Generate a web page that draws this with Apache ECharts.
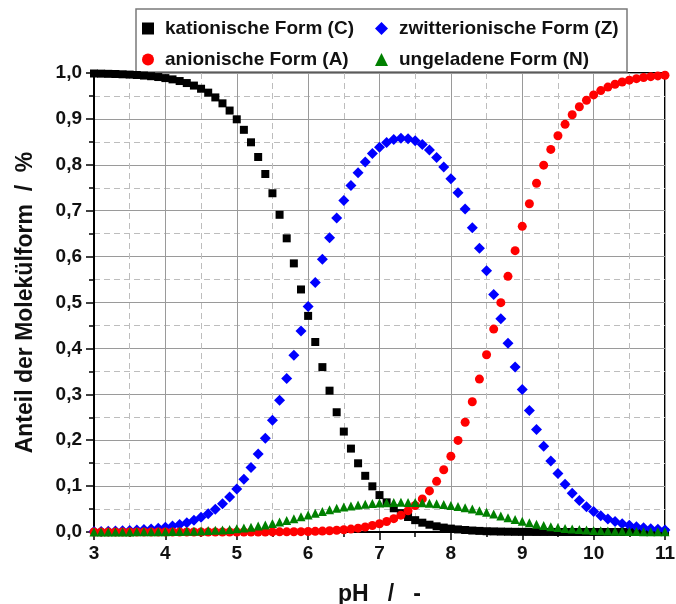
<!DOCTYPE html>
<html>
<head>
<meta charset="utf-8">
<script src="https://cdn.jsdelivr.net/npm/echarts@6/dist/echarts.min.js"></script>
<style>
  html, body { margin: 0; padding: 0; background: #fff; }
  #chart { width: 676px; height: 604px; }
</style>
</head>
<body>
<div id="chart"></div>
<script>
// pH sampling points
const pH = [
  3.0, 3.1, 3.2, 3.3, 3.4, 3.5, 3.6, 3.7, 3.8, 3.9,
  4.0, 4.1, 4.2, 4.3, 4.4, 4.5, 4.6, 4.7, 4.8, 4.9,
  5.0, 5.1, 5.2, 5.3, 5.4, 5.5, 5.6, 5.7, 5.8, 5.9,
  6.0, 6.1, 6.2, 6.3, 6.4, 6.5, 6.6, 6.7, 6.8, 6.9,
  7.0, 7.1, 7.2, 7.3, 7.4, 7.5, 7.6, 7.7, 7.8, 7.9,
  8.0, 8.1, 8.2, 8.3, 8.4, 8.5, 8.6, 8.7, 8.8, 8.9,
  9.0, 9.1, 9.2, 9.3, 9.4, 9.5, 9.6, 9.7, 9.8, 9.9,
  10.0, 10.1, 10.2, 10.3, 10.4, 10.5, 10.6, 10.7, 10.8, 10.9, 11.0
];

// kationische Form (C)
const cationic = [
  0.9989, 0.9986, 0.9982, 0.9978, 0.9972, 0.9965, 0.9956, 0.9944, 0.9930, 0.9912,
  0.9889, 0.9861, 0.9825, 0.9781, 0.9726, 0.9657, 0.9572, 0.9468, 0.9339, 0.9182,
  0.8991, 0.8762, 0.8490, 0.8170, 0.7800, 0.7380, 0.6911, 0.6398, 0.5852, 0.5284,
  0.4708, 0.4139, 0.3592, 0.3079, 0.2609, 0.2188, 0.1817, 0.1497, 0.1224, 0.0995,
  0.0804, 0.0646, 0.0517, 0.0412, 0.0327, 0.0258, 0.0203, 0.0159, 0.0124, 0.0096,
  0.0074, 0.0056, 0.0043, 0.0032, 0.0024, 0.0017, 0.0013, 0.0009, 0.0006, 0.0004,
  0.0003, 0.0002, 0.0001, 0.0001, 0.0001, 0.0000, 0.0000, 0.0000, 0.0000, 0.0000,
  0.0000, 0.0000, 0.0000, 0.0000, 0.0000, 0.0000, 0.0000, 0.0000, 0.0000, 0.0000, 0.0000
];

// zwitterionische Form (Z)
const zwitterionic = [
  0.0010, 0.0013, 0.0017, 0.0021, 0.0026, 0.0033, 0.0041, 0.0052, 0.0065, 0.0082,
  0.0103, 0.0130, 0.0162, 0.0204, 0.0255, 0.0319, 0.0398, 0.0495, 0.0615, 0.0761,
  0.0938, 0.1151, 0.1404, 0.1701, 0.2045, 0.2435, 0.2871, 0.3346, 0.3853, 0.4379,
  0.4912, 0.5437, 0.5941, 0.6411, 0.6839, 0.7220, 0.7550, 0.7829, 0.8060, 0.8244,
  0.8385, 0.8486, 0.8549, 0.8576, 0.8567, 0.8522, 0.8441, 0.8320, 0.8158, 0.7951,
  0.7696, 0.7391, 0.7036, 0.6631, 0.6181, 0.5692, 0.5177, 0.4646, 0.4114, 0.3596,
  0.3104, 0.2648, 0.2234, 0.1867, 0.1547, 0.1272, 0.1040, 0.0846, 0.0684, 0.0552,
  0.0444, 0.0356, 0.0285, 0.0228, 0.0182, 0.0145, 0.0116, 0.0092, 0.0073, 0.0058, 0.0046
];

// anionische Form (A)
const anionic = [
  0.0000, 0.0000, 0.0000, 0.0000, 0.0000, 0.0000, 0.0000, 0.0000, 0.0000, 0.0000,
  0.0000, 0.0000, 0.0000, 0.0000, 0.0000, 0.0000, 0.0000, 0.0000, 0.0000, 0.0000,
  0.0000, 0.0000, 0.0001, 0.0001, 0.0001, 0.0002, 0.0003, 0.0004, 0.0005, 0.0008,
  0.0011, 0.0015, 0.0020, 0.0027, 0.0037, 0.0049, 0.0064, 0.0084, 0.0109, 0.0141,
  0.0180, 0.0229, 0.0291, 0.0367, 0.0462, 0.0578, 0.0721, 0.0895, 0.1104, 0.1355,
  0.1651, 0.1996, 0.2392, 0.2838, 0.3331, 0.3862, 0.4421, 0.4996, 0.5570, 0.6129,
  0.6659, 0.7151, 0.7597, 0.7992, 0.8336, 0.8632, 0.8882, 0.9091, 0.9264, 0.9406,
  0.9523, 0.9617, 0.9693, 0.9755, 0.9804, 0.9844, 0.9876, 0.9901, 0.9921, 0.9937, 0.9950
];

// ungeladene Form (N)
const neutral = [
  0.0001, 0.0001, 0.0001, 0.0002, 0.0002, 0.0002, 0.0003, 0.0004, 0.0005, 0.0006,
  0.0008, 0.0010, 0.0012, 0.0015, 0.0019, 0.0024, 0.0030, 0.0037, 0.0046, 0.0057,
  0.0071, 0.0087, 0.0106, 0.0128, 0.0154, 0.0183, 0.0216, 0.0252, 0.0290, 0.0330,
  0.0370, 0.0409, 0.0447, 0.0483, 0.0515, 0.0543, 0.0568, 0.0589, 0.0607, 0.0621,
  0.0631, 0.0639, 0.0644, 0.0646, 0.0645, 0.0642, 0.0635, 0.0626, 0.0614, 0.0598,
  0.0579, 0.0556, 0.0530, 0.0499, 0.0465, 0.0429, 0.0390, 0.0350, 0.0310, 0.0271,
  0.0234, 0.0199, 0.0168, 0.0141, 0.0116, 0.0096, 0.0078, 0.0064, 0.0052, 0.0042,
  0.0033, 0.0027, 0.0022, 0.0017, 0.0014, 0.0011, 0.0009, 0.0007, 0.0006, 0.0004, 0.0004
];

const seriesNames = [
  'kationische Form (C)',
  'zwitterionische Form (Z)',
  'anionische Form (A)',
  'ungeladene Form (N)'
];

const xTitle = 'pH   /   -';
const yTitle = 'Anteil der Molekülform  /  %';

const FONT = '"Liberation Sans", Arial, Helvetica, sans-serif';

function pairs(values) {
  return pH.map((x, i) => [x, values[i]]);
}

const chart = echarts.init(document.getElementById('chart'), null, { renderer: 'canvas' });

const axisCommon = {
  axisLine: { show: true, onZero: false, lineStyle: { color: '#000', width: 2 } },
  axisTick: { show: true, inside: false, length: 8, lineStyle: { color: '#000', width: 1.5 } },
  minorTick: { show: true, splitNumber: 2, length: 5, lineStyle: { color: '#000', width: 1.5 } },
  splitLine: { show: true, lineStyle: { color: '#9a9a9a', width: 1 } },
  minorSplitLine: { show: true, lineStyle: { color: '#bdbdbd', width: 1, type: [6, 4] } },
  nameTextStyle: { fontFamily: FONT, fontWeight: 'bold', fontSize: 23, color: '#111' },
  axisLabel: { fontFamily: FONT, fontWeight: 'bold', fontSize: 19, color: '#111' }
};

const legendText = {
  fontFamily: FONT, fontWeight: 'bold', fontSize: 19, color: '#111',
  padding: [0, 0, 0, 6]
};

chart.setOption({
  backgroundColor: '#fff',
  animation: false,
  grid: {
    left: 94, right: 11, top: 73, bottom: 72,
    outerBoundsMode: 'none', containLabel: false,
    show: true, borderColor: '#000', borderWidth: 2, backgroundColor: 'transparent'
  },
  graphic: [{
    type: 'rect',
    z: 1,
    shape: { x: 136, y: 9, width: 491, height: 63 },
    style: { fill: '#fff', stroke: '#7a7a7a', lineWidth: 1.5 }
  }],
  legend: [
    {
      orient: 'vertical', left: 137, top: 14, itemGap: 12,
      itemWidth: 12, itemHeight: 12, selectedMode: false,
      data: [seriesNames[0], seriesNames[2]], textStyle: legendText, z: 5
    },
    {
      orient: 'vertical', left: 370, top: 14, itemGap: 12,
      itemWidth: 13, itemHeight: 13, selectedMode: false,
      data: [seriesNames[1], seriesNames[3]], textStyle: legendText, z: 5
    }
  ],
  xAxis: Object.assign({}, axisCommon, {
    type: 'value', min: 3, max: 11, interval: 1,
    name: xTitle, nameLocation: 'middle', nameGap: 51,
    axisLabel: Object.assign({}, axisCommon.axisLabel, { margin: 12 })
  }),
  yAxis: Object.assign({}, axisCommon, {
    type: 'value', min: 0, max: 1, interval: 0.1,
    name: yTitle, nameLocation: 'middle', nameGap: 57,
    axisLabel: Object.assign({}, axisCommon.axisLabel, {
      margin: 12,
      formatter: v => v.toFixed(1).replace('.', ',')
    })
  }),
  series: [
    {
      name: seriesNames[0], type: 'scatter', clip: false,
      symbol: 'rect', symbolSize: 8,
      itemStyle: { color: '#000', opacity: 1 }, data: pairs(cationic)
    },
    {
      name: seriesNames[1], type: 'scatter', clip: false,
      symbol: 'diamond', symbolSize: 11,
      itemStyle: { color: '#0000ff', opacity: 1 }, data: pairs(zwitterionic)
    },
    {
      name: seriesNames[2], type: 'scatter', clip: false,
      symbol: 'circle', symbolSize: 9,
      itemStyle: { color: '#ff0000', opacity: 1 }, data: pairs(anionic)
    },
    {
      name: seriesNames[3], type: 'scatter', clip: false,
      symbol: 'triangle', symbolSize: 9,
      itemStyle: { color: '#008000', opacity: 1 }, data: pairs(neutral)
    }
  ]
});
</script>
</body>
</html>
